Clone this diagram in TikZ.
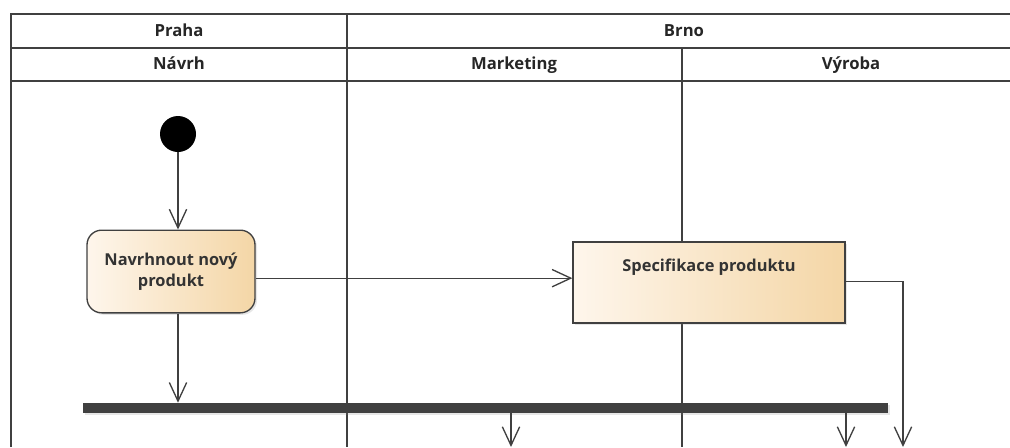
\documentclass[tikz,border=0pt]{standalone}
\usepackage{fontspec}
\setmainfont{Open Sans}
\usetikzlibrary{arrows.meta,shadows}
\definecolor{actleft}{HTML}{FEF6EC}
\definecolor{actright}{HTML}{F4D6A6}
\definecolor{edge}{HTML}{404040}
\begin{document}
\begin{tikzpicture}[x=0.75pt, y=-0.75pt,
    lane/.style={draw=edge, line width=1.5pt},
    head/.style={anchor=base, font=\fontsize{12.5}{14}\selectfont\bfseries, text=black!85},
    initial/.style={circle, fill=black, minimum size=27pt, inner sep=0pt},
    action/.style={draw=edge, line width=1pt, left color=actleft, right color=actright,
        drop shadow={opacity=0.2, shadow xshift=1.5pt, shadow yshift=-1.5pt},
        font=\fontsize{12.3}{16}\selectfont\bfseries, text=black!80, align=center},
    fork/.style={fill=edge, minimum width=603.75pt, minimum height=7.5pt, inner sep=0pt,
        drop shadow={opacity=0.2, shadow xshift=1.5pt, shadow yshift=-1.5pt}},
    flow/.style={draw=edge, line width=1pt, -{Straight Barb[length=14pt, width=13pt, line width=1pt]}}]
    \useasboundingbox (0,0) rectangle (1010,447);

    % Swimlane grid
    \draw[lane] (11,447) -- (11,14) -- (1010,14);
    \draw[lane] (11,48) -- (1010,48);
    \draw[lane] (11,81) -- (1010,81);
    \draw[lane] (347,14) -- (347,447);
    \draw[lane] (682,48) -- (682,447);

    % Lane headers
    \node[head] (praha) at (179,36.5) {Praha};
    \node[head] (brno) at (684,36.5) {Brno};
    \node[head] (navrh) at (179,69.5) {Návrh};
    \node[head] (marketing) at (514,69.5) {Marketing};
    \node[head] (vyroba) at (851,69.5) {Výroba};

    % Activities
    \node[initial] (start) at (178,134) {};
    \node[action, rounded corners=11pt, minimum width=126pt, minimum height=62pt] (design) at (171,271.5)
        {Navrhnout nový\\produkt};
    \node[action, minimum width=204pt, inner ysep=0pt, text height=21.75pt, text depth=39pt] (spec) at (709,282.5)
        {Specifikace produktu};
    \node[fork] (join) at (485.5,408) {};

    % Free ends at the bottom edge
    \coordinate (outA) at (511,447);
    \coordinate (outB) at (846,447);
    \coordinate (outC) at (903,447);

    % Control flow
    \draw[flow] (start) -- (start |- design.north);
    \draw[flow] (start |- design.south) -- (start |- join.north);
    \draw[flow] ([yshift=-5pt]design.east) -- ([yshift=-5pt]design.east -| spec.west);
    \draw[flow] ([yshift=1pt]spec.east) -| (outC);
    \draw[flow] (join.south -| outA) -- (outA);
    \draw[flow] (join.south -| outB) -- (outB);
\end{tikzpicture}
\end{document}
